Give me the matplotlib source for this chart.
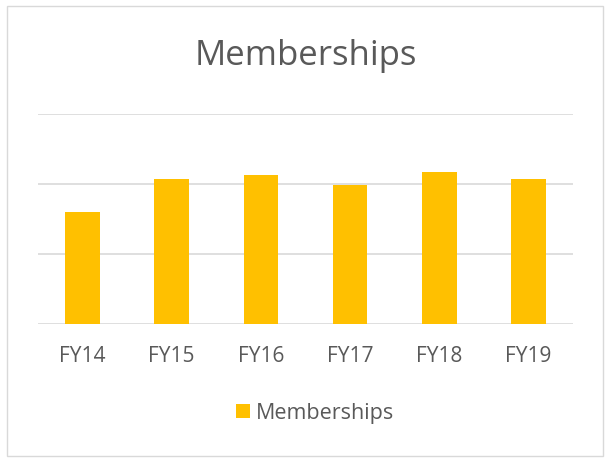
import matplotlib
matplotlib.use("Agg")
import matplotlib.pyplot as plt
from matplotlib.patches import Rectangle

years = ["FY14", "FY15", "FY16", "FY17", "FY18", "FY19"]
memberships = [1.60, 2.07, 2.13, 1.98, 2.17, 2.07]

plt.rcParams['font.family'] = ['Open Sans', 'DejaVu Sans']
text_color = '#595959'
bar_color = '#FFC000'

fig = plt.figure(figsize=(6.11, 4.64), dpi=100)
W, H = 611, 464

# outer chart border
fig.patches.append(Rectangle((7 / W, 1 - 457 / H), 596 / W, 450 / H,
                             transform=fig.transFigure, fill=False,
                             edgecolor='#d9d9d9', linewidth=1))

# plot area in pixel coords: x 38..573, y 115..325 (top..baseline)
ax = fig.add_axes([38 / W, 1 - 325 / H, 535 / W, 210 / H])
x = range(len(years))
ax.bar(x, memberships, width=0.39, color=bar_color, zorder=3,
       label='Memberships')
ax.set_xlim(-0.5, len(years) - 0.5)
ax.set_ylim(0, 3)
ax.set_yticks([0, 1, 2, 3])
ax.yaxis.grid(True, color='#d9d9d9', linewidth=1.2, zorder=0)
ax.set_yticklabels([])
ax.tick_params(axis='y', length=0)
ax.set_xticks(list(x))
ax.set_xticklabels(years, color=text_color, fontsize=15)
ax.tick_params(axis='x', length=0, pad=15)
for s in ax.spines.values():
    s.set_visible(False)

fig.text(0.5, 1 - 56 / H, "Memberships", ha='center', va='center',
         fontsize=25, color=text_color)

leg = fig.legend(loc='center', bbox_to_anchor=(315 / W, 1 - 414 / H),
                 frameon=False, fontsize=15.5, handlelength=0.65,
                 handleheight=0.65, handletextpad=0.3, labelcolor=text_color)

fig.savefig("out.png", dpi=100)
plt.close()
